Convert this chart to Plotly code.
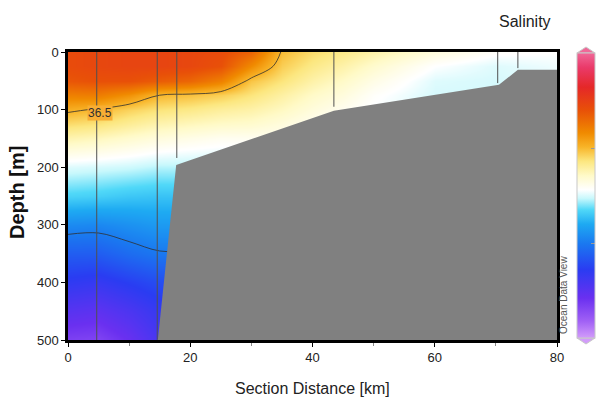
import plotly.graph_objects as go

# Section grid: distance along the section (km) and depth (m)
distance_km = [0, 5, 10, 15, 20, 25, 30, 35, 40, 45, 50, 60, 70, 80]
depth_m = [0, 25, 50, 75, 100, 125, 150, 200, 250, 300, 350, 400, 450, 500]

# Salinity profiles, one list per station column (surface -> 500 m)
sal_00 = [36.82, 36.82, 36.78, 36.65, 36.52, 36.42, 36.32, 36.13, 36.00, 35.80, 35.65, 35.52, 35.38, 35.25]
sal_05 = [36.84, 36.84, 36.80, 36.66, 36.49, 36.40, 36.30, 36.12, 35.99, 35.79, 35.65, 35.50, 35.36, 35.24]
sal_10 = [36.85, 36.85, 36.80, 36.60, 36.44, 36.36, 36.27, 36.11, 35.97, 35.82, 35.70, 35.55, 35.42, 35.32]
sal_15 = [36.85, 36.85, 36.76, 36.50, 36.40, 36.32, 36.24, 36.09, 35.96, 35.85, 35.74, 35.60, 35.50, 35.44]
sal_20 = [36.84, 36.84, 36.73, 36.48, 36.38, 36.30, 36.22, 36.09, 35.96, 35.85, 35.74, 35.60, 35.50, 35.44]
sal_25 = [36.82, 36.80, 36.65, 36.45, 36.35, 36.28, 36.20, 36.09, 35.96, 35.85, 35.74, 35.60, 35.50, 35.44]
sal_30 = [36.74, 36.62, 36.47, 36.40, 36.33, 36.27, 36.20, 36.09, 35.96, 35.85, 35.74, 35.60, 35.50, 35.44]
sal_35 = [36.49, 36.45, 36.40, 36.34, 36.29, 36.24, 36.20, 36.09, 35.96, 35.85, 35.74, 35.60, 35.50, 35.44]
sal_40 = [36.42, 36.38, 36.33, 36.28, 36.24, 36.20, 36.17, 36.09, 35.96, 35.85, 35.74, 35.60, 35.50, 35.44]
sal_45 = [36.38, 36.33, 36.28, 36.24, 36.20, 36.17, 36.15, 36.09, 35.96, 35.85, 35.74, 35.60, 35.50, 35.44]
sal_50 = [36.33, 36.27, 36.22, 36.18, 36.16, 36.14, 36.13, 36.09, 35.96, 35.85, 35.74, 35.60, 35.50, 35.44]
sal_60 = [36.24, 36.17, 36.13, 36.12, 36.12, 36.12, 36.12, 36.09, 35.96, 35.85, 35.74, 35.60, 35.50, 35.44]
sal_70 = [36.18, 36.13, 36.12, 36.12, 36.12, 36.12, 36.12, 36.09, 35.96, 35.85, 35.74, 35.60, 35.50, 35.44]
sal_80 = [36.17, 36.15, 36.14, 36.14, 36.14, 36.14, 36.14, 36.10, 35.96, 35.85, 35.74, 35.60, 35.50, 35.44]
sal_columns = [sal_00, sal_05, sal_10, sal_15, sal_20, sal_25, sal_30,
               sal_35, sal_40, sal_45, sal_50, sal_60, sal_70, sal_80]

# Contour levels and colour range
contour_labelled = 36.5
contour_deep = 35.75
sal_min, sal_max = 35.0, 37.25
colorbar_ticks = [35.75, 36.5]

# Where the 36.5 label sits on its isohaline
label_km, label_depth = 5.3, 106

# CTD stations: position and cast depth
station_km = [4.7, 14.6, 17.8, 43.5, 70.3, 73.6]
station_depth = [500, 500, 184, 95, 54, 28]

# Seafloor profile
bathy_km = [14.7, 17.7, 43.5, 70.5, 73.6, 80.0]
bathy_depth = [500, 196, 102, 57, 31, 31]

# z[depth][distance]
sal_grid = [[col[i] for col in sal_columns] for i in range(len(depth_m))]

odv_scale = [
    [0.00, '#d29cfa'], [0.06, '#a060f5'], [0.14, '#6a30f0'], [0.24, '#2a3cf2'],
    [0.33, '#1a78f0'], [0.40, '#1eaaf2'], [0.45, '#50d8f8'], [0.49, '#c8f8fc'],
    [0.52, '#ffffff'], [0.57, '#fffac8'], [0.62, '#fce780'], [0.67, '#f8b428'],
    [0.72, '#f08a00'], [0.80, '#e85008'], [0.88, '#e52828'], [0.95, '#ea3a6a'],
    [1.00, '#f06898'],
]

FONT = 'Liberation Sans, Arial'

fig = go.Figure()

fig.add_trace(go.Heatmap(
    x=distance_km, y=depth_m, z=sal_grid,
    zsmooth='best', colorscale=odv_scale, zmin=sal_min, zmax=sal_max,
    hoverinfo='skip',
    colorbar=dict(
        x=(577 - 68) / 489, xanchor='left', xpad=0,
        y=(340 - 195.5) / 288, yanchor='middle', ypad=0,
        thickness=18, thicknessmode='pixels',
        len=285, lenmode='pixels',
        outlinecolor='#c8c8c8', outlinewidth=1,
        tickvals=colorbar_ticks, ticks='inside', ticklen=4,
        tickcolor='#999999', showticklabels=False,
    ),
))

# Isohalines
for level in (contour_deep, contour_labelled):
    fig.add_trace(go.Contour(
        x=distance_km, y=depth_m, z=sal_grid,
        contours=dict(coloring='lines', start=level, end=level, size=1),
        colorscale=[[0, '#303030'], [1, '#303030']],
        line=dict(width=0.8), showscale=False, hoverinfo='skip',
    ))

# Station casts as thin vertical lines
cast_x, cast_y = [], []
for km, dep in zip(station_km, station_depth):
    cast_x += [km, km, None]
    cast_y += [0, dep, None]
fig.add_trace(go.Scatter(
    x=cast_x, y=cast_y, mode='lines',
    line=dict(color='#505050', width=1), hoverinfo='skip', showlegend=False,
))

# Seafloor
floor_x = bathy_km + [distance_km[-1], bathy_km[0]]
floor_y = bathy_depth + [depth_m[-1], bathy_depth[0]]
fig.add_trace(go.Scatter(
    x=floor_x, y=floor_y, mode='lines', fill='toself',
    fillcolor='#808080', line=dict(color='#808080', width=0),
    hoverinfo='skip', showlegend=False,
))

# Isohaline label
fig.add_annotation(text=f'{contour_labelled:.1f}', x=label_km, y=label_depth,
                   xref='x', yref='y', showarrow=False, bgcolor='#f8ae34',
                   borderpad=0, font=dict(family=FONT, size=12, color='#303030'))

# Pointed ends of the colour bar
cb_x0, cb_x1 = (577 - 68) / 489, (595 - 68) / 489
cb_xm = (cb_x0 + cb_x1) / 2
def py(p):
    return (340 - p) / 288
fig.add_shape(type='path', xref='paper', yref='paper', layer='above',
              path=f'M {cb_x0} {py(53)} L {cb_xm} {py(47)} L {cb_x1} {py(53)} Z',
              fillcolor='#f06898', line=dict(color='#c8c8c8', width=1))
fig.add_shape(type='path', xref='paper', yref='paper', layer='above',
              path=f'M {cb_x0} {py(338)} L {cb_xm} {py(344)} L {cb_x1} {py(338)} Z',
              fillcolor='#d29cfa', line=dict(color='#c8c8c8', width=1))

axis_common = dict(
    showgrid=False, zeroline=False, showline=True, linecolor='black',
    linewidth=2.5, mirror=True, ticks='outside', ticklen=4, tickcolor='black',
    tickfont=dict(family=FONT, size=13, color='#222222'),
)

fig.update_xaxes(range=[0, 80], tickvals=[0, 20, 40, 60, 80],
                 minor=dict(tickvals=[10, 30, 50, 70], ticks='outside',
                            ticklen=3, tickcolor='#888888'),
                 **axis_common)
fig.update_yaxes(range=[500, 0], tickvals=[0, 100, 200, 300, 400, 500],
                 **axis_common)

fig.add_annotation(text='Section Distance [km]', xref='paper', yref='paper',
                   x=(312 - 68) / 489, y=py(388), xanchor='center', yanchor='middle',
                   showarrow=False, font=dict(family=FONT, size=16, color='#222222'))
fig.add_annotation(text='<b>Depth [m]</b>', xref='paper', yref='paper',
                   x=(17 - 68) / 489, y=py(193), xanchor='center', yanchor='middle',
                   textangle=-90, showarrow=False,
                   font=dict(family=FONT, size=20, color='#111111'))
fig.add_annotation(text='Salinity', xref='paper', yref='paper',
                   x=(553 - 68) / 489, y=py(21), xanchor='right', yanchor='middle',
                   showarrow=False, font=dict(family=FONT, size=16, color='#222222'))
fig.add_annotation(text='Ocean Data View', xref='paper', yref='paper',
                   x=(563 - 68) / 489, y=py(295), xanchor='center', yanchor='middle',
                   textangle=-90, showarrow=False,
                   font=dict(family=FONT, size=10, color='#555555'))

fig.update_layout(
    width=598, height=412,
    margin=dict(l=68, r=41, t=52, b=72, autoexpand=False),
    paper_bgcolor='white', plot_bgcolor='white',
    showlegend=False,
)

fig.write_html('out.html')
